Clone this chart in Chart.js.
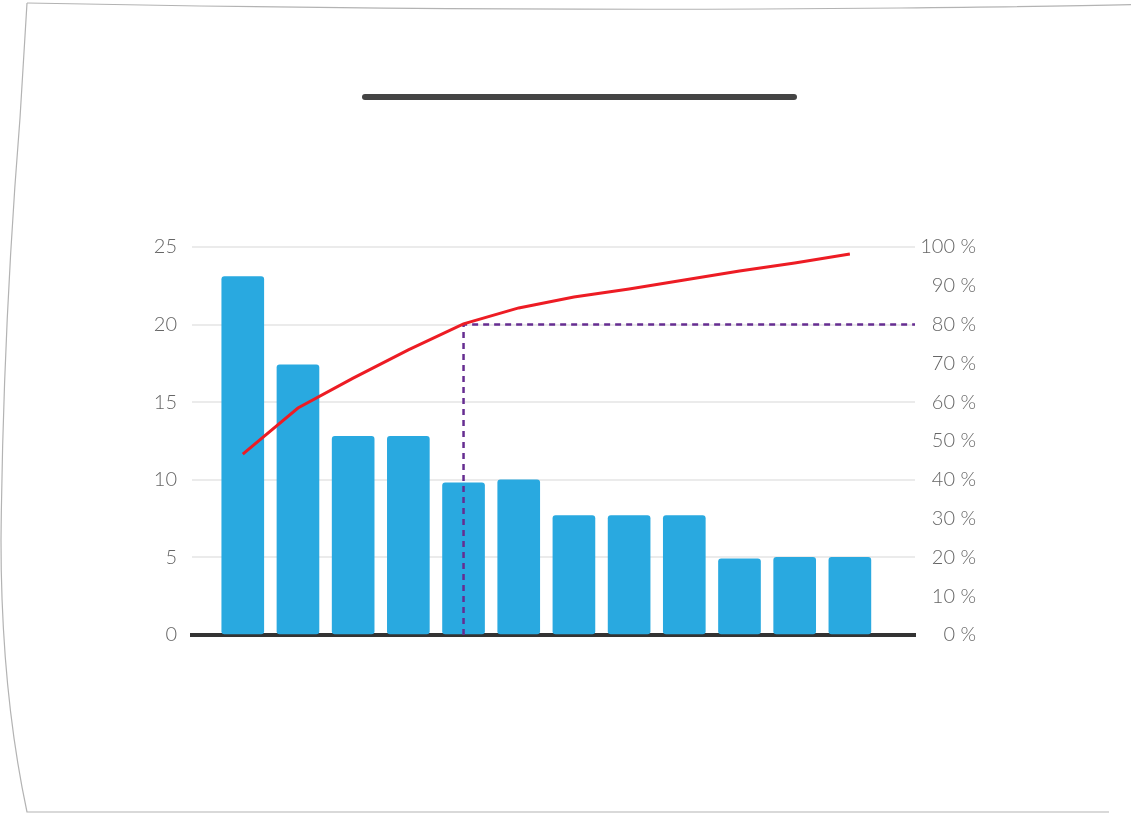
<!DOCTYPE html>
<html>
<head>
<meta charset="utf-8">
<script src="https://cdn.jsdelivr.net/npm/chart.js@4/dist/chart.umd.min.js"></script>
<style>
  html, body { margin: 0; padding: 0; background: #fff; }
  #wrap { position: relative; width: 1131px; height: 814px; overflow: hidden; }
  #frame { position: absolute; left: 0; top: 0; }
  #titleBar {
    position: absolute; left: 362px; top: 94px; width: 435px; height: 6px;
    background: #444; border-radius: 3px;
  }
  #chart { position: absolute; left: 0; top: 0; }
</style>
</head>
<body>
<div id="wrap">
  <svg id="frame" width="1131" height="814">
    <path d="M27,3 Q500,12 900,8 T1131,-1" fill="none" stroke="#b3b3b3" stroke-width="1.2"/>
    <path d="M27,3 L20,118 Q3,330 1,540 Q1,690 27,812 L1109,812" fill="none" stroke="#b3b3b3" stroke-width="1.2"/>
  </svg>
  <div id="titleBar"></div>
  <canvas id="chart" width="1131" height="814"></canvas>
</div>
<script>
// categories (no visible labels in the source picture)
const categories = ['A', 'B', 'C', 'D', 'E', 'F', 'G', 'H', 'I', 'J', 'K', 'L'];
// bar heights (left axis)
const barValues = [23.1, 17.4, 12.8, 12.8, 9.8, 10.0, 7.7, 7.7, 7.7, 4.9, 5.0, 5.0];
// cumulative percentage line (right axis)
const cumulativePct = [46.6, 58.5, 66.2, 73.5, 80.2, 84.3, 87.1, 89.2, 91.5, 93.8, 95.9, 98.2];
// left and right tick values
const leftTicks = [0, 5, 10, 15, 20, 25];
const rightTicks = [0, 10, 20, 30, 40, 50, 60, 70, 80, 90, 100];
// 80 % cut-off, drawn from the category where the line crosses it
const cutIndex = 4;
const cutPct = 80;

const xMin = -0.92;
const xMax = 12.18;

const font = { family: 'Lato, "Open Sans", sans-serif', size: 20, weight: '300' };

const barPoints = categories.map((c, i) => ({ x: i, y: barValues[i] }));
const linePoints = categories.map((c, i) => ({ x: i, y: cumulativePct[i] }));
const cutPoints = [
    { x: cutIndex, y: 0 },
    { x: cutIndex, y: cutPct },
    { x: xMax, y: cutPct },
];

new Chart(document.getElementById('chart'), {
    data: {
        datasets: [
            {
                type: 'line',
                data: linePoints,
                yAxisID: 'y1',
                borderColor: '#ed1c24',
                borderWidth: 3,
                pointRadius: 0,
                tension: 0,
                order: 1,
            },
            {
                type: 'line',
                data: cutPoints,
                yAxisID: 'y1',
                borderColor: '#662d91',
                borderWidth: 2.5,
                borderDash: [6, 5],
                pointRadius: 0,
                tension: 0,
                order: 2,
            },
            {
                type: 'bar',
                data: barPoints,
                yAxisID: 'y',
                backgroundColor: '#29a9e0',
                barThickness: 42,
                borderRadius: 3,
                borderSkipped: false,
                order: 3,
            },
        ],
    },
    options: {
        responsive: false,
        animation: false,
        layout: { padding: { top: 247, bottom: 179, left: 0, right: 155 } },
        plugins: {
            legend: { display: false },
            tooltip: { enabled: false },
            title: { display: false },
        },
        scales: {
            x: {
                type: 'linear',
                min: xMin,
                max: xMax,
                offset: false,
                ticks: { display: false },
                grid: { display: false, drawTicks: false, offset: false },
                border: { display: true, color: '#333', width: 4 },
                afterFit: (scale) => { scale.height = 0; },
            },
            y: {
                position: 'left',
                min: 0,
                max: 25,
                afterBuildTicks: (scale) => { scale.ticks = leftTicks.map((v) => ({ value: v })); },
                ticks: { color: '#666', font: font, padding: 15 },
                grid: { color: '#ebebeb', lineWidth: 2, drawTicks: false },
                border: { display: false },
                afterFit: (scale) => { scale.width = 192; },
            },
            y1: {
                position: 'right',
                min: 0,
                max: 100,
                afterBuildTicks: (scale) => { scale.ticks = rightTicks.map((v) => ({ value: v })); },
                ticks: {
                    color: '#666',
                    font: font,
                    padding: 3,
                    crossAlign: 'far',
                    callback: (v) => v + ' %',
                },
                grid: { display: false, drawTicks: false },
                border: { display: false },
                afterFit: (scale) => { scale.width = 61; },
            },
        },
    },
});
</script>
</body>
</html>
